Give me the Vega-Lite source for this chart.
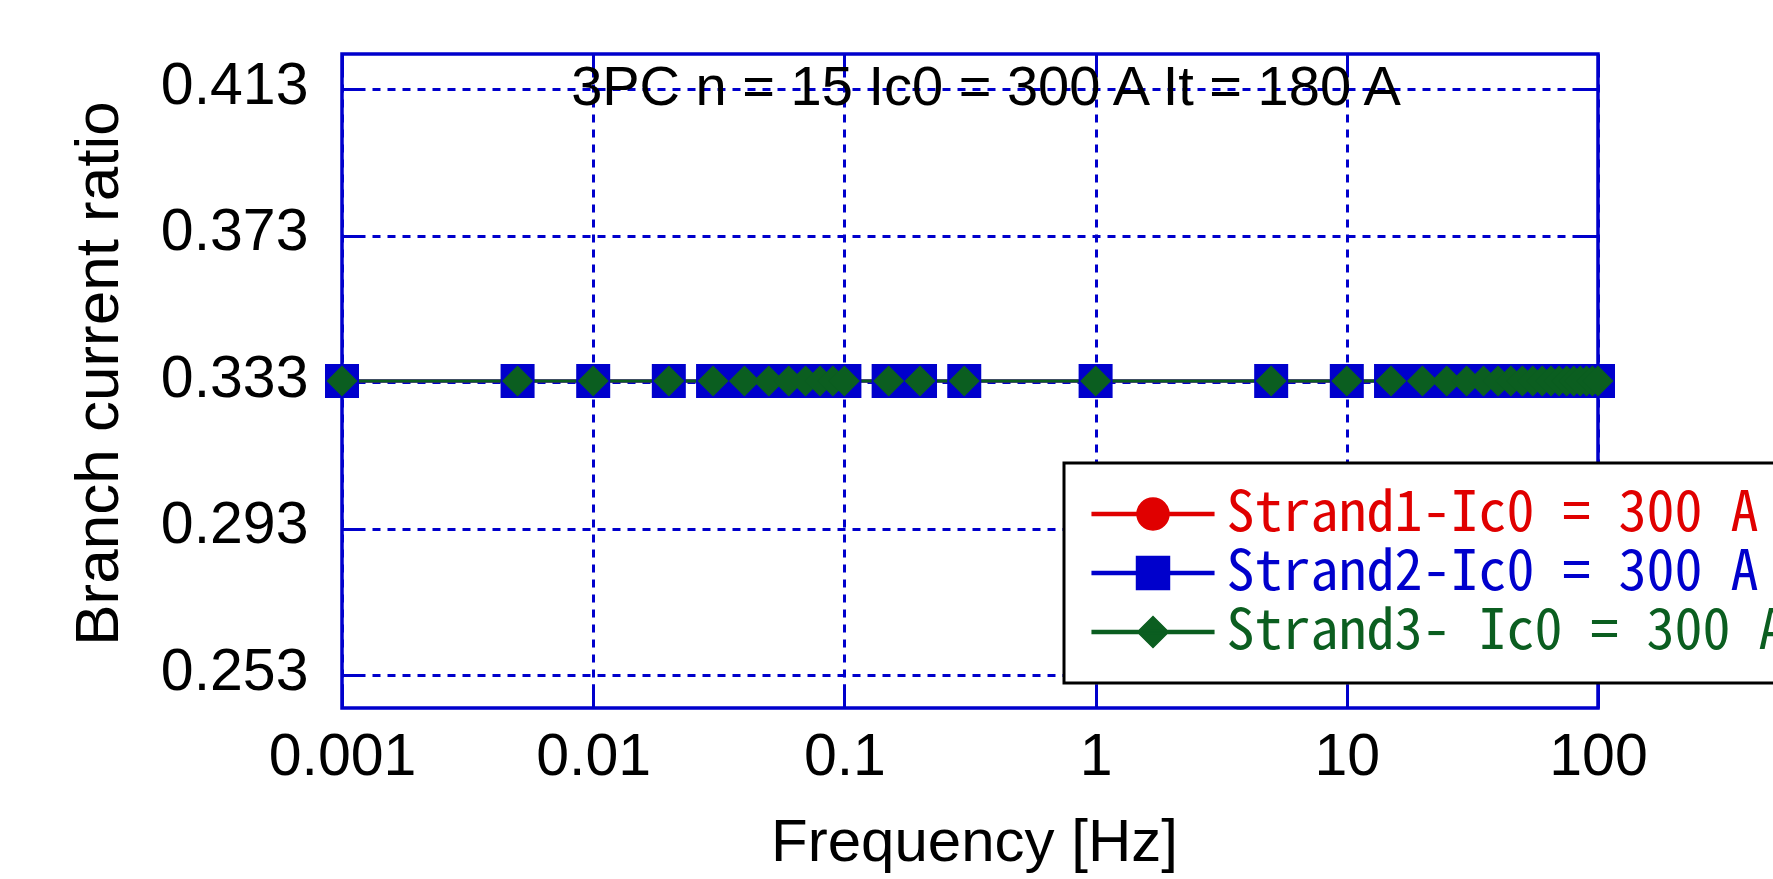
{
  "$schema": "https://vega.github.io/schema/vega-lite/v6.json",
  "width": 1256,
  "height": 654,
  "autosize": {"type": "none"},
  "padding": {"left": 342, "top": 54, "right": 175, "bottom": 171},
  "background": "white",
  "config": {
    "view": {"stroke": "#0000CC", "strokeWidth": 3.5},
    "font": "Liberation Sans",
    "legend": {
      "orient": "none",
      "legendX": 722,
      "legendY": 409,
      "direction": "vertical",
      "padding": 23,
      "strokeColor": "black",
      "strokeWidth": 3,
      "fillColor": "white",
      "cornerRadius": 0,
      "symbolSize": 1024,
      "symbolOffset": 38,
      "labelOffset": 45.5,
      "rowPadding": 3,
      "labelFont": "Noto Sans Mono CJK JP",
      "labelFontSize": 56,
      "labelLimit": 2000,
      "labelBaseline": "middle"
    }
  },
  "title": {
    "text": "3PC n = 15 Ic0 = 300 A It = 180 A",
    "font": "Liberation Sans",
    "fontSize": 56,
    "fontWeight": "normal",
    "color": "black",
    "anchor": "middle",
    "frame": "group",
    "baseline": "alphabetic",
    "offset": 0,
    "dx": 16,
    "dy": 108
  },
  "data": {
    "values": [
      {"f": 0.001, "r": 0.3333, "s": "S1"}, {"f": 0.005, "r": 0.3333, "s": "S1"}, {"f": 0.01, "r": 0.3333, "s": "S1"}, {"f": 0.02, "r": 0.3333, "s": "S1"}, {"f": 0.03, "r": 0.3333, "s": "S1"}, {"f": 0.04, "r": 0.3333, "s": "S1"}, {"f": 0.05, "r": 0.3333, "s": "S1"}, {"f": 0.06, "r": 0.3333, "s": "S1"}, {"f": 0.07, "r": 0.3333, "s": "S1"}, {"f": 0.08, "r": 0.3333, "s": "S1"}, {"f": 0.09, "r": 0.3333, "s": "S1"}, {"f": 0.1, "r": 0.3333, "s": "S1"}, {"f": 0.15, "r": 0.3333, "s": "S1"}, {"f": 0.2, "r": 0.3333, "s": "S1"}, {"f": 0.3, "r": 0.3333, "s": "S1"}, {"f": 1, "r": 0.3333, "s": "S1"}, {"f": 5, "r": 0.3333, "s": "S1"}, {"f": 10, "r": 0.3333, "s": "S1"}, {"f": 15, "r": 0.3333, "s": "S1"}, {"f": 20, "r": 0.3333, "s": "S1"}, {"f": 25, "r": 0.3333, "s": "S1"}, {"f": 30, "r": 0.3333, "s": "S1"}, {"f": 35, "r": 0.3333, "s": "S1"}, {"f": 40, "r": 0.3333, "s": "S1"}, {"f": 45, "r": 0.3333, "s": "S1"}, {"f": 50, "r": 0.3333, "s": "S1"}, {"f": 55, "r": 0.3333, "s": "S1"}, {"f": 60, "r": 0.3333, "s": "S1"}, {"f": 65, "r": 0.3333, "s": "S1"}, {"f": 70, "r": 0.3333, "s": "S1"}, {"f": 75, "r": 0.3333, "s": "S1"}, {"f": 80, "r": 0.3333, "s": "S1"}, {"f": 85, "r": 0.3333, "s": "S1"}, {"f": 90, "r": 0.3333, "s": "S1"}, {"f": 95, "r": 0.3333, "s": "S1"}, {"f": 100, "r": 0.3333, "s": "S1"},
      {"f": 0.001, "r": 0.3333, "s": "S2"}, {"f": 0.005, "r": 0.3333, "s": "S2"}, {"f": 0.01, "r": 0.3333, "s": "S2"}, {"f": 0.02, "r": 0.3333, "s": "S2"}, {"f": 0.03, "r": 0.3333, "s": "S2"}, {"f": 0.04, "r": 0.3333, "s": "S2"}, {"f": 0.05, "r": 0.3333, "s": "S2"}, {"f": 0.06, "r": 0.3333, "s": "S2"}, {"f": 0.07, "r": 0.3333, "s": "S2"}, {"f": 0.08, "r": 0.3333, "s": "S2"}, {"f": 0.09, "r": 0.3333, "s": "S2"}, {"f": 0.1, "r": 0.3333, "s": "S2"}, {"f": 0.15, "r": 0.3333, "s": "S2"}, {"f": 0.2, "r": 0.3333, "s": "S2"}, {"f": 0.3, "r": 0.3333, "s": "S2"}, {"f": 1, "r": 0.3333, "s": "S2"}, {"f": 5, "r": 0.3333, "s": "S2"}, {"f": 10, "r": 0.3333, "s": "S2"}, {"f": 15, "r": 0.3333, "s": "S2"}, {"f": 20, "r": 0.3333, "s": "S2"}, {"f": 25, "r": 0.3333, "s": "S2"}, {"f": 30, "r": 0.3333, "s": "S2"}, {"f": 35, "r": 0.3333, "s": "S2"}, {"f": 40, "r": 0.3333, "s": "S2"}, {"f": 45, "r": 0.3333, "s": "S2"}, {"f": 50, "r": 0.3333, "s": "S2"}, {"f": 55, "r": 0.3333, "s": "S2"}, {"f": 60, "r": 0.3333, "s": "S2"}, {"f": 65, "r": 0.3333, "s": "S2"}, {"f": 70, "r": 0.3333, "s": "S2"}, {"f": 75, "r": 0.3333, "s": "S2"}, {"f": 80, "r": 0.3333, "s": "S2"}, {"f": 85, "r": 0.3333, "s": "S2"}, {"f": 90, "r": 0.3333, "s": "S2"}, {"f": 95, "r": 0.3333, "s": "S2"}, {"f": 100, "r": 0.3333, "s": "S2"},
      {"f": 0.001, "r": 0.3333, "s": "S3"}, {"f": 0.005, "r": 0.3333, "s": "S3"}, {"f": 0.01, "r": 0.3333, "s": "S3"}, {"f": 0.02, "r": 0.3333, "s": "S3"}, {"f": 0.03, "r": 0.3333, "s": "S3"}, {"f": 0.04, "r": 0.3333, "s": "S3"}, {"f": 0.05, "r": 0.3333, "s": "S3"}, {"f": 0.06, "r": 0.3333, "s": "S3"}, {"f": 0.07, "r": 0.3333, "s": "S3"}, {"f": 0.08, "r": 0.3333, "s": "S3"}, {"f": 0.09, "r": 0.3333, "s": "S3"}, {"f": 0.1, "r": 0.3333, "s": "S3"}, {"f": 0.15, "r": 0.3333, "s": "S3"}, {"f": 0.2, "r": 0.3333, "s": "S3"}, {"f": 0.3, "r": 0.3333, "s": "S3"}, {"f": 1, "r": 0.3333, "s": "S3"}, {"f": 5, "r": 0.3333, "s": "S3"}, {"f": 10, "r": 0.3333, "s": "S3"}, {"f": 15, "r": 0.3333, "s": "S3"}, {"f": 20, "r": 0.3333, "s": "S3"}, {"f": 25, "r": 0.3333, "s": "S3"}, {"f": 30, "r": 0.3333, "s": "S3"}, {"f": 35, "r": 0.3333, "s": "S3"}, {"f": 40, "r": 0.3333, "s": "S3"}, {"f": 45, "r": 0.3333, "s": "S3"}, {"f": 50, "r": 0.3333, "s": "S3"}, {"f": 55, "r": 0.3333, "s": "S3"}, {"f": 60, "r": 0.3333, "s": "S3"}, {"f": 65, "r": 0.3333, "s": "S3"}, {"f": 70, "r": 0.3333, "s": "S3"}, {"f": 75, "r": 0.3333, "s": "S3"}, {"f": 80, "r": 0.3333, "s": "S3"}, {"f": 85, "r": 0.3333, "s": "S3"}, {"f": 90, "r": 0.3333, "s": "S3"}, {"f": 95, "r": 0.3333, "s": "S3"}, {"f": 100, "r": 0.3333, "s": "S3"}
    ]
  },
  "layer": [
    {
      "mark": {"type": "line", "strokeWidth": 3},
      "encoding": {
        "x": {
          "field": "f", "type": "quantitative",
          "scale": {"type": "log", "domain": [0.001, 100], "nice": false},
          "axis": {
            "orient": "bottom",
            "values": [0.001, 0.01, 0.1, 1, 10, 100],
            "format": "~g",
            "grid": true, "gridColor": "#0000CC", "gridDash": [8, 7], "gridWidth": 3,
            "ticks": true, "tickSize": -24, "tickColor": "#0000CC", "tickWidth": 3,
            "domain": false,
            "labelFont": "Liberation Sans", "labelFontSize": 59, "labelColor": "black",
            "labelPadding": 90, "labelBaseline": "alphabetic", "labelFlush": false, "labelOverlap": false,
            "title": "Frequency [Hz]", "titleFont": "Liberation Sans", "titleFontSize": 60,
            "titleFontWeight": "normal", "titleColor": "black",
            "titleX": 632, "titleY": 152, "titleAlign": "center", "titleBaseline": "alphabetic"
          }
        },
        "y": {
          "field": "r", "type": "quantitative",
          "scale": {"domain": [0.244, 0.4226], "nice": false, "zero": false},
          "axis": {
            "orient": "left",
            "values": [0.253, 0.293, 0.333, 0.373, 0.413],
            "format": ".3f",
            "grid": true, "gridColor": "#0000CC", "gridDash": [8, 7], "gridWidth": 3,
            "ticks": true, "tickSize": -22, "tickColor": "#0000CC", "tickWidth": 3,
            "domain": false,
            "labelFont": "Liberation Sans", "labelFontSize": 59, "labelColor": "black",
            "labelPadding": 56, "labelBaseline": "alphabetic", "labelOffset": 14, "labelFlush": false, "labelOverlap": false,
            "title": "Branch current ratio", "titleFont": "Liberation Sans", "titleFontSize": 62,
            "titleFontWeight": "normal", "titleColor": "black",
            "titleX": -225, "titleY": 319, "titleAlign": "center", "titleBaseline": "alphabetic", "titleAngle": -90
          }
        },
        "color": {
          "field": "s", "type": "nominal",
          "scale": {"domain": ["S1", "S2", "S3"], "range": ["#E00000", "#0000CC", "#0B5E20"]},
          "legend": {
            "title": null,
            "labelExpr": "datum.value == 'S1' ? 'Strand1-Ic0 = 300 A' : datum.value == 'S2' ? 'Strand2-Ic0 = 300 A' : 'Strand3- Ic0 = 300 A'",
            "encode": {
              "labels": {
                "update": {
                  "fill": {"scale": "color", "field": "value"}
                }
              }
            }
          }
        },
        "order": {"field": "f", "type": "quantitative"}
      }
    },
    {
      "transform": [{"filter": "datum.s == 'S1'"}],
      "mark": {"type": "point", "filled": true, "opacity": 1, "strokeWidth": 0, "shape": "circle", "size": 1024, "color": "#E00000"},
      "encoding": {
        "x": {
          "field": "f", "type": "quantitative",
          "scale": {"type": "log", "domain": [0.001, 100], "nice": false},
          "axis": {
            "orient": "top",
            "values": [0.001, 0.01, 0.1, 1, 10, 100],
            "labels": false, "grid": false, "domain": false,
            "ticks": true, "tickSize": -18, "tickColor": "#0000CC", "tickWidth": 3,
            "title": null
          }
        },
        "y": {
          "field": "r", "type": "quantitative",
          "scale": {"domain": [0.244, 0.4226], "nice": false, "zero": false},
          "axis": {
            "orient": "right",
            "values": [0.253, 0.293, 0.333, 0.373, 0.413],
            "labels": false, "grid": false, "domain": false,
            "ticks": true, "tickSize": -25, "tickColor": "#0000CC", "tickWidth": 3,
            "title": null
          }
        }
      }
    },
    {
      "transform": [{"filter": "datum.s == 'S2'"}],
      "mark": {"type": "point", "filled": true, "opacity": 1, "strokeWidth": 0, "shape": "square", "size": 1156, "color": "#0000CC"},
      "encoding": {
        "x": {"field": "f", "type": "quantitative", "scale": {"type": "log", "domain": [0.001, 100], "nice": false}, "axis": null},
        "y": {"field": "r", "type": "quantitative", "scale": {"domain": [0.244, 0.4226], "nice": false, "zero": false}, "axis": null}
      }
    },
    {
      "transform": [{"filter": "datum.s == 'S3'"}],
      "mark": {"type": "point", "filled": true, "opacity": 1, "strokeWidth": 0, "shape": "diamond", "size": 961, "color": "#0B5E20"},
      "encoding": {
        "x": {"field": "f", "type": "quantitative", "scale": {"type": "log", "domain": [0.001, 100], "nice": false}, "axis": null},
        "y": {"field": "r", "type": "quantitative", "scale": {"domain": [0.244, 0.4226], "nice": false, "zero": false}, "axis": null}
      }
    },
    {
      "transform": [{"filter": "datum.f < 0"}],
      "mark": {"type": "point", "filled": true, "opacity": 1, "strokeWidth": 0, "size": 1024},
      "encoding": {
        "x": {"field": "f", "type": "quantitative", "scale": {"type": "log", "domain": [0.001, 100], "nice": false}, "axis": null},
        "y": {"field": "r", "type": "quantitative", "scale": {"domain": [0.244, 0.4226], "nice": false, "zero": false}, "axis": null},
        "color": {
          "field": "s", "type": "nominal",
          "scale": {"domain": ["S1", "S2", "S3"], "range": ["#E00000", "#0000CC", "#0B5E20"]}
        },
        "shape": {
          "field": "s", "type": "nominal",
          "scale": {
            "domain": ["S1", "S2", "S3"],
            "range": [
              "M-3.8,-0.094H3.8V0.094H-3.8Z M-1,0A1,1 0 1,1 1,0A1,1 0 1,1 -1,0Z",
              "M-3.8,-0.094H3.8V0.094H-3.8Z M-1.03,-1.03H1.03V1.03H-1.03Z",
              "M-3.8,-0.094H3.8V0.094H-3.8Z M-0.97,0L0,-0.97L0.97,0L0,0.97Z"
            ]
          },
          "legend": null
        }
      }
    }
  ],
  "resolve": {"axis": {"x": "independent", "y": "independent"}}
}
